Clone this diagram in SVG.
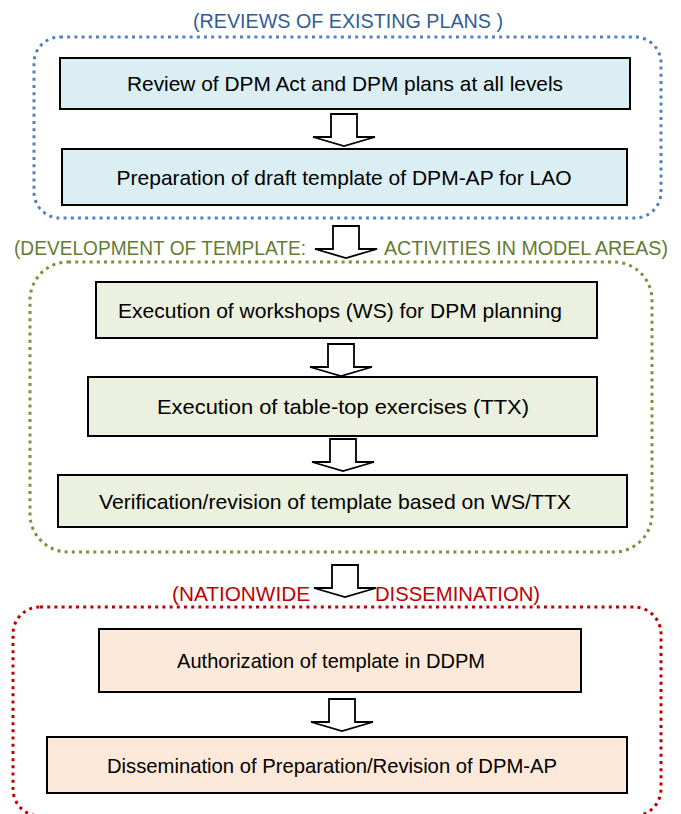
<svg xmlns="http://www.w3.org/2000/svg" xmlns:xlink="http://www.w3.org/1999/xlink" width="681" height="814" viewBox="0 0 681 814">
<style>
.grp{fill:none;stroke-width:3;stroke-dasharray:3 4.2;}
.box{stroke:#000;stroke-width:2;}
.t{font-family:"Liberation Sans",Arial,sans-serif;font-size:21px;fill:#000;text-anchor:middle;}
.h{font-family:"Liberation Sans",Arial,sans-serif;font-size:20.5px;}
.arr{fill:#fff;stroke:#000;stroke-width:1.8;stroke-linejoin:miter;}
</style>
<defs>
<path id="blk" d="M-13,0 H13 V23 H31 L0,32 L-31,23 H-13 Z"/>
</defs>
<g id="group-review">
<rect class="grp" x="34" y="37" width="627" height="181" rx="26" stroke="#4f81bd"/>
<text class="h" x="348" y="28" text-anchor="middle" fill="#2f5e96" textLength="310" lengthAdjust="spacingAndGlyphs">(REVIEWS OF EXISTING PLANS )</text>
</g>
<g id="group-development">
<rect class="grp" x="30" y="262" width="622" height="290" rx="38" stroke="#77933c"/>
<text class="h" x="14" y="255" fill="#657b32" textLength="292" lengthAdjust="spacingAndGlyphs">(DEVELOPMENT OF TEMPLATE:</text>
<text class="h" x="668" y="255" text-anchor="end" fill="#657b32" style="font-size:19.5px" textLength="284" lengthAdjust="spacingAndGlyphs">ACTIVITIES IN MODEL AREAS)</text>
</g>
<g id="group-dissemination">
<rect class="grp" x="13" y="607" width="648" height="209" rx="27" stroke="#c00000"/>
<text class="h" x="172" y="601" fill="#c00000" textLength="138" lengthAdjust="spacingAndGlyphs">(NATIONWIDE</text>
<text class="h" x="375" y="601" fill="#c00000" textLength="165" lengthAdjust="spacingAndGlyphs">DISSEMINATION)</text>
</g>
<g id="n1"><rect class="box" x="60" y="58" width="570" height="51" fill="#daeef3"/><text class="t" x="345" y="91" textLength="436" lengthAdjust="spacingAndGlyphs">Review of DPM Act and DPM plans at all levels</text></g>
<g id="n2"><rect class="box" x="62" y="149" width="565" height="56" fill="#daeef3"/><text class="t" x="344" y="184.5" textLength="455" lengthAdjust="spacingAndGlyphs">Preparation of draft template of DPM-AP for LAO</text></g>
<g id="n3"><rect class="box" x="96" y="282" width="501" height="56" fill="#ebf1de"/><text class="t" x="340" y="317.5" textLength="444" lengthAdjust="spacingAndGlyphs">Execution of workshops (WS) for DPM planning</text></g>
<g id="n4"><rect class="box" x="88" y="377" width="509" height="59" fill="#ebf1de"/><text class="t" x="343" y="414" textLength="372" lengthAdjust="spacingAndGlyphs">Execution of table-top exercises (TTX)</text></g>
<g id="n5"><rect class="box" x="58" y="475" width="569" height="52" fill="#ebf1de"/><text class="t" x="335" y="508.5" textLength="472" lengthAdjust="spacingAndGlyphs">Verification/revision of template based on WS/TTX</text></g>
<g id="n6"><rect class="box" x="99" y="629" width="482" height="63" fill="#fde9d9"/><text class="t" x="331" y="668" textLength="308" lengthAdjust="spacingAndGlyphs">Authorization of template in DDPM</text></g>
<g id="n7"><rect class="box" x="47" y="737" width="580" height="56" fill="#fde9d9"/><text class="t" x="332" y="772.5" textLength="450" lengthAdjust="spacingAndGlyphs">Dissemination of Preparation/Revision of DPM-AP</text></g>
<g id="connectors">
<use xlink:href="#blk" class="arr" transform="translate(344,114)"/>
<use xlink:href="#blk" class="arr" transform="translate(346,226)"/>
<use xlink:href="#blk" class="arr" transform="translate(341,344)"/>
<use xlink:href="#blk" class="arr" transform="translate(343,439)"/>
<use xlink:href="#blk" class="arr" transform="translate(345,565)"/>
<use xlink:href="#blk" class="arr" transform="translate(342,699)"/>
</g>
</svg>
